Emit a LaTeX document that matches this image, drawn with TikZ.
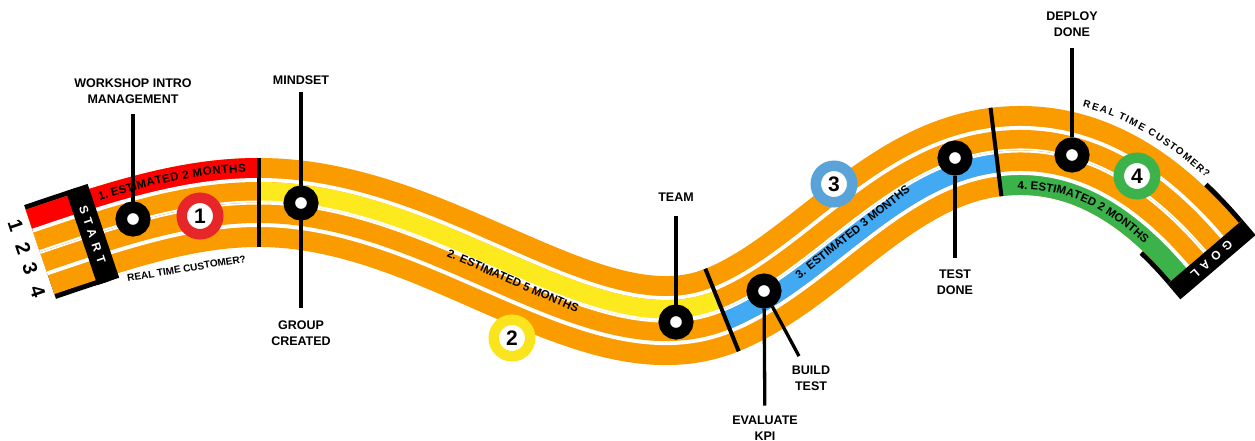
\documentclass[tikz,border=0pt]{standalone}
\usepackage{fontspec}
\setmainfont{Liberation Sans}
\newfontfamily\widefont[LetterSpace=45]{Liberation Sans}
\usetikzlibrary{decorations.text}

\definecolor{trackorange}{RGB}{250,155,0}
\definecolor{lanered}{RGB}{254,0,0}
\definecolor{laneyellow}{RGB}{252,234,30}
\definecolor{laneblue}{RGB}{66,170,242}
\definecolor{lanegreen}{RGB}{60,178,74}
\definecolor{ringred}{RGB}{230,38,40}
\definecolor{ringyellow}{RGB}{250,228,30}
\definecolor{ringblue}{RGB}{90,163,216}
\definecolor{ringgreen}{RGB}{60,178,74}

% centre line of the track, one piece per phase
\newcommand\segA{(40,252) .. controls (125,223) and (190,202.5) .. (259,202.5)}
\newcommand\segB{(259,202.5) .. controls (440,202.5) and (592,362.5) .. (722,310)}
\newcommand\segC{(722,310) .. controls (815,272.5) and (887,165) .. (996,152)}
\newcommand\segD{(996,152) .. controls (1085,141) and (1153,191) .. (1205,252)}
% base line of the text in the green lane
\newcommand\greenbase{(1000.7,190.5) .. controls (1080.1,180.7) and (1133.3,227.7) .. (1175.5,277.2)}
\newcommand\lanefont{\fontsize{11.5}{12}\selectfont\bfseries}
\newcommand\edgefont{\fontsize{10}{10}\selectfont\bfseries}

\begin{document}
\begin{tikzpicture}[x=1pt, y=-1pt,
        lanesout/.style={draw=#1, line width=89pt,
            postaction={draw=white, line width=49pt},
            postaction={draw=trackorange, line width=41pt},
            postaction={draw=white, line width=4pt}},
        lanesin/.style={draw=#1, line width=41pt,
            postaction={draw=white, line width=4pt}},
        divider/.style={fill=black, inner sep=0pt, minimum width=4pt, minimum height=89pt},
        startbar/.style={fill=black, inner sep=0pt},
        bartext/.style={text=white, inner sep=0pt, font=\widefont\fontsize{12}{12}\selectfont\bfseries},
        laneno/.style={inner sep=0pt, rotate=-71.4, font=\fontsize{20}{20}\selectfont\bfseries},
        milestone/.style={circle, draw=black, fill=white, line width=11.5pt, minimum size=23.5pt, inner sep=0pt},
        badge/.style={circle, draw=#1, fill=white, line width=10.5pt, minimum size=36.5pt, inner sep=0pt, font=\fontsize{21}{21}\selectfont\bfseries},
        note/.style={align=center, inner sep=0pt, outer sep=11pt, font=\fontsize{12.5}{16}\selectfont\bfseries},
        lanenote/.style={inner sep=0pt, font=\lanefont},
        leader/.style={line width=3.3pt},
        lanetext/.style={decorate, decoration={text along path, text={|\lanefont|#1}}}
    ]
    \useasboundingbox (0,0) rectangle (1255,441);

    % Black edges at start and goal
    \begin{scope}
        \clip (20.8,195.1) -- (73.3,177.6) -- (111.7,291.4) -- (59.2,308.9) -- cycle;
        \draw[line width=99pt] \segA;
    \end{scope}
    \begin{scope}
        \clip (1214.8,175.1) -- (1250.7,213.1) -- (1159.3,290.9) -- (1132.4,262.3) -- cycle;
        \draw[line width=99pt] \segD;
    \end{scope}

    % Track with four lanes
    \draw[lanesout=trackorange] (40,252) .. controls (125,223) and (190,202.5) .. (259,202.5)
        .. controls (440,202.5) and (592,362.5) .. (722,310)
        .. controls (815,272.5) and (887,165) .. (996,152)
        .. controls (1085,141) and (1153,191) .. (1205,252);

    % Coloured lane of each phase
    \begin{scope}
        \clip \segA -- (259,140) -- (20,140) -- (20.8,195.1) -- cycle;
        \draw[lanesout=lanered] \segA;
    \end{scope}
    \begin{scope}
        \clip \segB -- (699.5,254.4) -- (259,142.5) -- cycle;
        \draw[lanesin=laneyellow] \segB;
    \end{scope}
    \begin{scope}
        \clip \segC -- (1003.3,211.6) -- (744.5,365.6) -- cycle;
        \draw[lanesin=laneblue] \segC;
    \end{scope}
    \begin{scope}
        \clip \segD -- (1159.3,290.9) -- (1003.3,211.6) -- cycle;
        \draw[lanesout=lanegreen] \segD;
    \end{scope}

    % Phase dividers
    \node[divider] (d1) at (259,202.5) {};
    \node[divider, rotate=22] (d2) at (722,310) {};
    \node[divider, rotate=7] (d3) at (996,152) {};

    % Start and goal
    \node[startbar, minimum width=23pt, minimum height=99pt, rotate=18.6] (startbar) at (92.5,234.5) {};
    \node[bartext, rotate=-71.4] (starttxt) at (startbar) {START};
    \node[startbar, minimum width=99pt, minimum height=20pt, rotate=40.5] (goalbar) at (1211.5,259.6) {};
    \node[bartext, rotate=220.5] (goaltxt) at (goalbar) {GOAL};

    \node[laneno] (n1) at (15.7,225.8) {1};
    \node[laneno] (n2) at (23.2,248.1) {2};
    \node[laneno] (n3) at (30.2,268.9) {3};
    \node[laneno] (n4) at (37.7,291.2) {4};

    % Lane texts
    \path[lanetext={1. ESTIMATED 2 MONTHS}, decoration={text align={left indent=72pt}, raise=30.5pt}] \segA;
    \node[lanenote, rotate=-23.5] (est2) at (513,281) {2. ESTIMATED 5 MONTHS};
    \node[lanenote, rotate=38.5] (est3) at (852.5,232) {3. ESTIMATED 3 MONTHS};
    \path[lanetext={4. ESTIMATED 2 MONTHS}, decoration={text align={left indent=17pt}}] \greenbase;
    \node[rotate=9.5, font=\edgefont, inner sep=0pt] (rtc1) at (186.5,268.5) {REAL TIME CUSTOMER?};
    \path[decorate, decoration={text along path, text={|\edgefont|REAL TIME CUSTOMER?},
        text align={left indent=73pt}, raise=52pt}] \segD;

    % Milestone labels
    \node[note] (l1) at (133,91) {WORKSHOP INTRO\\MANAGEMENT};
    \node[note, outer sep=8pt] (l2) at (301,80) {MINDSET};
    \node[note, outer sep=13pt] (l3) at (301,333.5) {GROUP\\CREATED};
    \node[note, outer sep=15pt] (l4) at (676,197) {TEAM};
    \node[note, outer sep=10pt] (l5) at (765,428) {EVALUATE\\KPI};
    \node[note, outer sep=10pt] (l6) at (811,378.5) {BUILD\\TEST};
    \node[note, outer sep=12pt] (l7) at (955,282.5) {TEST\\DONE};
    \node[note] (l8) at (1072,24.5) {DEPLOY\\DONE};

    \draw[leader] (l2) -- (l3);

    % Milestones
    \node[milestone] (m1) at (133,219) {};
    \node[milestone] (m2) at (301,203) {};
    \node[milestone] (m3) at (676,322) {};
    \node[milestone] (m4) at (764,291) {};
    \node[milestone] (m5) at (955,158) {};
    \node[milestone] (m6) at (1072,155) {};

    \draw[leader] (m1) -- (l1);
    \draw[leader] (m3) -- (l4);
    \draw[leader] (m4) -- (l5);
    \draw[leader] (m4) -- (l6);
    \draw[leader] (m5) -- (l7);
    \draw[leader] (m6) -- (l8);

    % Phase numbers
    \node[badge=ringred] (b1) at (200,216) {1};
    \node[badge=ringyellow] (b2) at (512,338) {2};
    \node[badge=ringblue] (b3) at (834,184) {3};
    \node[badge=ringgreen] (b4) at (1137,176) {4};

\end{tikzpicture}
\end{document}
